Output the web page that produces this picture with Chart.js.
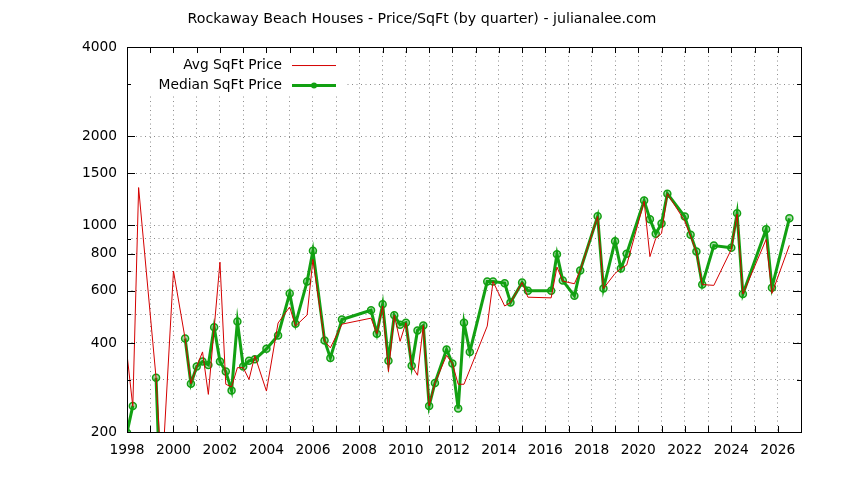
<!DOCTYPE html>
<html>
<head>
<meta charset="utf-8">
<script src="https://cdn.jsdelivr.net/npm/chart.js@4/dist/chart.umd.min.js"></script>
<style>
  html, body { margin: 0; padding: 0; background: #fff; }
  canvas { display: block; }
</style>
</head>
<body>
<canvas id="chart" width="844" height="480"></canvas>
<script>
// quarters as decimal years
const avgQuarters = [
  1998.00, 1998.25, 1998.50, 1999.25, 1999.50, 2000.00, 2000.50, 2000.75,
  2001.00, 2001.25, 2001.50, 2002.00, 2002.25, 2002.50, 2002.75, 2003.00,
  2003.25, 2003.50, 2004.00, 2004.50, 2005.00, 2005.25, 2005.75, 2006.00,
  2006.50, 2006.75, 2007.25, 2008.50, 2008.75, 2009.00, 2009.25, 2009.50,
  2009.75, 2010.00, 2010.25, 2010.50, 2010.75, 2011.00, 2011.25, 2011.75,
  2012.00, 2012.25, 2012.50, 2013.50, 2013.75, 2014.25, 2014.50, 2015.00,
  2015.25, 2016.25, 2016.50, 2016.75, 2017.25, 2017.50, 2018.25, 2018.50,
  2019.00, 2019.25, 2019.50, 2020.25, 2020.50, 2020.75, 2021.00, 2021.25,
  2022.00, 2022.25, 2022.50, 2022.75, 2023.25, 2024.00, 2024.25, 2024.50,
  2025.50, 2025.75, 2026.50
]
const avgPrice = [
  366, 244, 1340, 305, 140, 700, 414, 291,
  333, 373, 268, 750, 290, 284, 330, 330,
  301, 362, 275, 467, 529, 456, 497, 766,
  406, 385, 463, 485, 430, 533, 320, 496,
  405, 468, 335, 311, 458, 245, 293, 363,
  341, 290, 290, 456, 645, 533, 548, 640,
  571, 568, 722, 647, 634, 703, 1071, 611,
  687, 714, 733, 1205, 783, 902, 938, 1278,
  1033, 919, 810, 630, 626, 828, 1090, 585,
  895, 588, 855
]

// null = no median for that quarter (line breaks there)
const medianQuarters = [
  1998.00, 1998.25, 1998.50, 1999.25, 1999.50, 1999.75, 2000.50, 2000.75,
  2001.00, 2001.25, 2001.50, 2001.75, 2002.00, 2002.25, 2002.50, 2002.75,
  2003.00, 2003.25, 2003.50, 2004.00, 2004.50, 2005.00, 2005.25, 2005.75,
  2006.00, 2006.50, 2006.75, 2007.25, 2008.50, 2008.75, 2009.00, 2009.25,
  2009.50, 2009.75, 2010.00, 2010.25, 2010.50, 2010.75, 2011.00, 2011.25,
  2011.75, 2012.00, 2012.25, 2012.50, 2012.75, 2013.50, 2013.75, 2014.25,
  2014.50, 2015.00, 2015.25, 2016.25, 2016.50, 2016.75, 2017.25, 2017.50,
  2018.25, 2018.50, 2019.00, 2019.25, 2019.50, 2020.25, 2020.50, 2020.75,
  2021.00, 2021.25, 2022.00, 2022.25, 2022.50, 2022.75, 2023.25, 2024.00,
  2024.25, 2024.50, 2025.50, 2025.75, 2026.50
]
const medianPrice = [
  199, 245, null, 305, 90, null, 414, 291,
  333, 346, 337, 452, 346, 320, 276, 473,
  333, 348, 352, 382, 424, 588, 464, 645,
  820, 408, 356, 480, 516, 430, 540, 348,
  496, 461, 468, 335, 441, 458, 245, 293,
  380, 341, 240, 468, 373, 645, 645, 637,
  548, 640, 600, 600, 798, 650, 577, 703,
  1071, 611, 883, 714, 801, 1211, 1047, 936,
  1014, 1278, 1069, 929, 815, 630, 853, 839,
  1097, 585, 968, 615, 1055
]

const yTicks = [200, 300, 400, 500, 600, 700, 800, 900, 1000, 1500, 2000, 3000, 4000]
const yLabels = [200, 400, 600, 800, 1000, 1500, 2000, 4000]

const FONT = 'DejaVu Sans'
const RED = '#d40000'
const GREEN = '#12a012'

// gnuplot style frame: inward ticks on all sides, opaque key top-left
const gnuFrame = {
  id: 'gnuFrame',
  afterDatasetsDraw(chart) {
    const {ctx, chartArea: a, scales: {x, y}} = chart
    ctx.save()

    // key
    ctx.fillStyle = '#fff'
    ctx.fillRect(a.left, a.top, 218, 48)
    ctx.font = '13.8px "' + FONT + '"'
    ctx.textAlign = 'right'
    ctx.textBaseline = 'middle'
    ctx.fillStyle = '#000'
    ctx.fillText('Avg SqFt Price', a.left + 155, a.top + 18)
    ctx.fillText('Median SqFt Price', a.left + 155, a.top + 38)
    ctx.strokeStyle = RED
    ctx.lineWidth = 1
    ctx.beginPath()
    ctx.moveTo(a.left + 165, a.top + 18.5)
    ctx.lineTo(a.left + 209, a.top + 18.5)
    ctx.stroke()
    ctx.strokeStyle = GREEN
    ctx.lineWidth = 3
    ctx.beginPath()
    ctx.moveTo(a.left + 165, a.top + 38.5)
    ctx.lineTo(a.left + 209, a.top + 38.5)
    ctx.stroke()
    ctx.fillStyle = GREEN
    ctx.beginPath()
    ctx.arc(a.left + 187, a.top + 38.5, 3, 0, Math.PI * 2)
    ctx.fill()

    // ticks
    ctx.strokeStyle = '#000'
    ctx.lineWidth = 1
    ctx.beginPath()
    x.ticks.forEach(t => {
      const px = Math.round(x.getPixelForValue(t.value)) + 0.5
      ctx.moveTo(px, a.bottom); ctx.lineTo(px, a.bottom - 6)
      ctx.moveTo(px, a.top); ctx.lineTo(px, a.top + 6)
    })
    y.ticks.forEach(t => {
      const len = yLabels.includes(t.value) ? 8 : 4
      const py = Math.round(y.getPixelForValue(t.value)) + 0.5
      ctx.moveTo(a.left, py); ctx.lineTo(a.left + len, py)
      ctx.moveTo(a.right, py); ctx.lineTo(a.right - len, py)
    })
    ctx.stroke()
    ctx.strokeRect(Math.round(a.left) + 0.5, Math.round(a.top) + 0.5,
      Math.round(a.right - a.left), Math.round(a.bottom - a.top))
    ctx.restore()
  }
}

const gridStyle = { color: '#8c8c8c', lineWidth: 1, drawTicks: false }
const gridBorder = { display: false, dash: [1, 3.5] }

new Chart(document.getElementById('chart'), {
  type: 'line',
  data: {
    datasets: [{
      label: 'Avg SqFt Price',
      data: avgQuarters.map((q, i) => ({ x: q, y: avgPrice[i] })),
      borderColor: RED,
      borderWidth: 1,
      pointRadius: 0,
      tension: 0,
      clip: 0
    }, {
      label: 'Median SqFt Price',
      data: medianQuarters.map((q, i) => ({ x: q, y: medianPrice[i] })),
      borderColor: GREEN,
      borderWidth: 3,
      pointRadius: 3.5,
      pointBorderWidth: 1.5,
      pointBorderColor: GREEN,
      pointBackgroundColor: 'rgba(18,160,18,0.35)',
      spanGaps: false,
      tension: 0,
      clip: 0
    }]
  },
  options: {
    responsive: false,
    animation: false,
    devicePixelRatio: 1,
    // equal side padding keeps the title centred on the whole canvas
    layout: { padding: { left: 43, right: 43, top: 0, bottom: 0 } },
    plugins: {
      legend: { display: false },
      tooltip: { enabled: false },
      title: {
        display: true,
        text: 'Rockaway Beach Houses - Price/SqFt (by quarter) - julianalee.com',
        color: '#000',
        font: { family: FONT, size: 14.2, weight: 'normal' },
        padding: { top: 10.6, bottom: 19.4 }
      }
    },
    scales: {
      x: {
        type: 'linear',
        min: 1998,
        max: 2027,
        grid: gridStyle,
        border: gridBorder,
        ticks: {
          stepSize: 1,
          autoSkip: false,
          maxRotation: 0,
          padding: 10,
          color: '#000',
          font: { family: FONT, size: 13.8 },
          callback: v => (v % 2 === 0 && v < 2027) ? String(v) : ''
        },
        afterFit: s => { s.height = 48 }
      },
      y: {
        type: 'logarithmic',
        min: 200,
        max: 4000,
        grid: gridStyle,
        border: gridBorder,
        afterBuildTicks: s => { s.ticks = yTicks.map(v => ({ value: v })) },
        ticks: {
          autoSkip: false,
          padding: 10,
          color: '#000',
          font: { family: FONT, size: 13.8 },
          callback: v => yLabels.includes(v) ? String(v) : ''
        },
        afterFit: s => { s.width = 84 }
      }
    }
  },
  plugins: [gnuFrame]
})
</script>
</body>
</html>
